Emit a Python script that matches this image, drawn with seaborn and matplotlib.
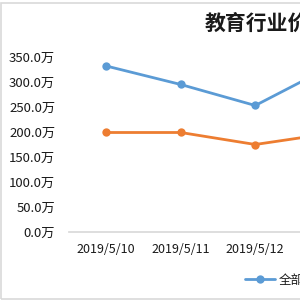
import matplotlib
matplotlib.use("Agg")
import matplotlib.pyplot as plt
import seaborn as sns
import pandas as pd
from matplotlib.ticker import FuncFormatter, FixedLocator

# data (values in 万)
dates = ["2019/5/10", "2019/5/11", "2019/5/12", "2019/5/13"]
total_users = [332, 295, 253, 330]
new_users = [199, 199, 175, 197]
series_names = ["全部用户数", "活跃用户数"]
title = "教育行业价值分析"

sns.set_theme(style="white")
plt.rcParams['font.family'] = ['Noto Sans CJK SC', 'DejaVu Sans']

df = pd.DataFrame({
    "date": dates * 2,
    "value": total_users + new_users,
    "series": [series_names[0]] * len(dates) + [series_names[1]] * len(dates),
})
df["x"] = list(range(len(dates))) * 2

fig = plt.figure(figsize=(3, 3), dpi=100)
# axes runs past the right edge, chart is cropped like the reference
ax = fig.add_axes([69 / 300, 68 / 300, 4 * 74.5 / 300, 175 / 300])

sns.lineplot(data=df, x="x", y="value", hue="series",
             palette=["#5B9BD5", "#ED7D31"], marker="o", markersize=6,
             markeredgewidth=0, linewidth=2, ax=ax)

ax.set_xlim(-0.5, len(dates) - 0.5)
ax.set_ylim(0, 350)
ax.set_yticks(range(0, 351, 50))
ax.yaxis.set_major_formatter(FuncFormatter(lambda v, p: f"{v:.1f}万"))
ax.set_xticks(range(len(dates)))
ax.set_xticklabels(dates)
ax.xaxis.set_minor_locator(FixedLocator([i - 0.5 for i in range(len(dates) + 1)]))
ax.tick_params(axis="x", which="major", length=0, pad=8, labelsize=9, labelcolor="#1a1a1a")
ax.tick_params(axis="x", which="minor", length=4, color="#D9D9D9", width=1, direction="out")
ax.tick_params(axis="y", length=0, pad=10, labelsize=9.5, labelcolor="#1a1a1a")
ax.set_xlabel("")
ax.set_ylabel("")
for s in ["left", "right", "top"]:
    ax.spines[s].set_visible(False)
ax.spines["bottom"].set_color("#D9D9D9")
ax.grid(False)

handles, labels = ax.get_legend_handles_labels()
ax.legend(handles, labels, loc="center left", bbox_to_anchor=(245 / 300, 20 / 300),
          bbox_transform=fig.transFigure, ncol=2, frameon=False, borderpad=0,
          borderaxespad=0, handlelength=2.4, handletextpad=0.3, fontsize=9,
          labelcolor="#1a1a1a")

fig.text(205 / 300, 1 - 23 / 300, title, fontsize=15, fontweight="bold",
         ha="left", va="center", color="#1a1a1a")

# outer chart border
border = plt.Rectangle((1 / 300, 1 / 300), 1.2, 1 - 4 / 300, transform=fig.transFigure,
                       fill=False, edgecolor="#D9D9D9", linewidth=1.2)
fig.patches.append(border)

fig.savefig("out.png", dpi=100)
